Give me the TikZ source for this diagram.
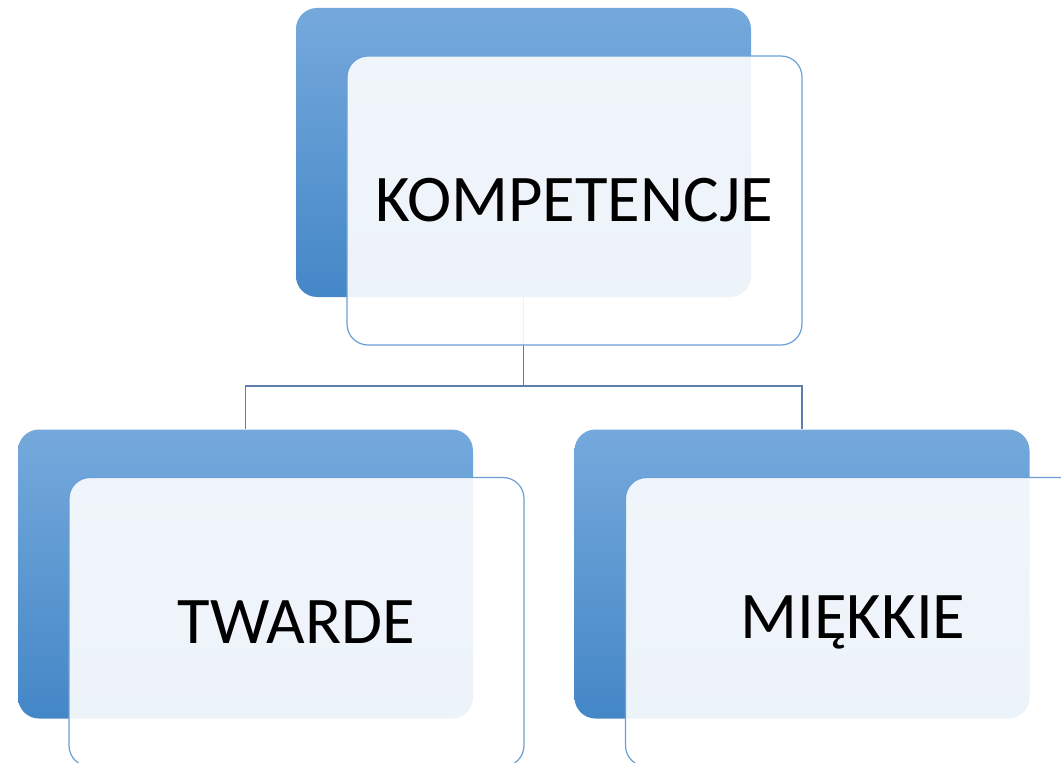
\documentclass[tikz,border=0pt]{standalone}
\usepackage{fontspec}
\setmainfont{Carlito}
\usepackage{tikz}
\usetikzlibrary{positioning}
\definecolor{boxtop}{HTML}{75A9DC}
\definecolor{boxmid}{HTML}{5A9EDB}
\definecolor{boxbot}{HTML}{4487C7}
\definecolor{frameline}{HTML}{6A9FD6}
\definecolor{linkline}{HTML}{5B7FAA}
\tikzset{
  backbox/.style={shape=rectangle,rounded corners=21pt*0.75,minimum width=455*0.75pt,
    minimum height=289*0.75pt,inner sep=0,top color=boxtop,middle color=boxmid,bottom color=boxbot},
  frontbox/.style={shape=rectangle,rounded corners=21pt*0.75,minimum width=455*0.75pt,
    minimum height=289*0.75pt,inner sep=0,draw=frameline,line width=0.9pt,fill=white,
    fill opacity=0.9,text opacity=1,font=\fontsize{50pt}{60pt}\selectfont},
  link/.style={draw=linkline,line width=1.1pt}
}
\begin{document}
\begin{tikzpicture}[x=0.75pt,y=-0.75pt]
      \useasboundingbox (0,0) rectangle (1061,763);
      \node[backbox] (topback) at (523.5,152.5) {};
      \node[backbox] (leftback) at (245.5,574) {};
      \node[backbox] (rightback) at (802,574) {};
      \coordinate (fork) at (523.5,386);
      \begin{scope}
        \draw[link] (topback.south) -- (fork);
        \draw[link] (fork) -| (leftback.north);
        \draw[link] (fork) -| (rightback.north);
      \end{scope}
      \node[frontbox] (kompetencje) at ([xshift=51*0.75pt,yshift=-48*0.75pt]topback.center) {KOMPETENCJE};
      \node[frontbox] (twarde) at ([xshift=51*0.75pt,yshift=-48*0.75pt]leftback.center) {TWARDE};
      \node[frontbox] (miekkie) at ([xshift=51*0.75pt,yshift=-48*0.75pt]rightback.center) {MIĘKKIE};
    \end{tikzpicture}
\end{document}
